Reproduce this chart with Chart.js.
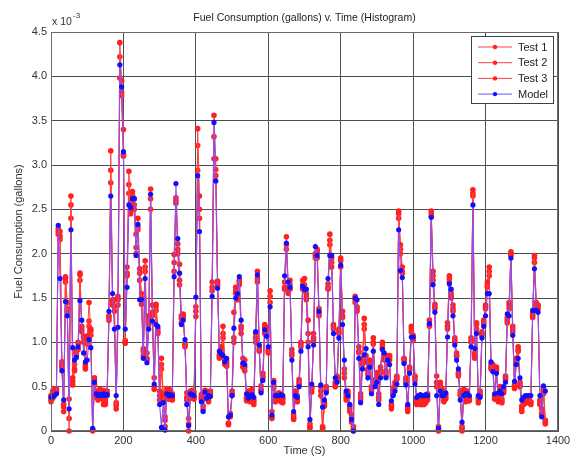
<!DOCTYPE html>
<html>
<head>
<meta charset="utf-8">
<title>Fuel Consumption v. Time</title>
<script src="https://cdn.jsdelivr.net/npm/chart.js@4.4.0/dist/chart.umd.min.js"></script>
<style>
  html, body { margin: 0; padding: 0; background: #ffffff; }
  #wrap { width: 584px; height: 458px; position: relative; }
</style>
</head>
<body>
<div id="wrap"><canvas id="chart" width="584" height="458"></canvas></div>
<script>
// Sample times in seconds
const timeS = [
  0, 5, 10, 15, 20, 25, 30, 35, 40, 45,
  50, 55, 60, 65, 70, 75, 80, 85, 90, 95,
  100, 105, 110, 115, 120, 125, 130, 135, 140, 145,
  150, 155, 160, 165, 170, 175, 180, 185, 190, 195,
  200, 205, 210, 215, 220, 225, 230, 235, 240, 245,
  250, 255, 260, 265, 270, 275, 280, 285, 290, 295,
  300, 305, 310, 315, 320, 325, 330, 335, 340, 345,
  350, 355, 360, 365, 370, 375, 380, 385, 390, 395,
  400, 405, 410, 415, 420, 425, 430, 435, 440, 445,
  450, 455, 460, 465, 470, 475, 480, 485, 490, 495,
  500, 505, 510, 515, 520, 525, 530, 535, 540, 545,
  550, 555, 560, 565, 570, 575, 580, 585, 590, 595,
  600, 605, 610, 615, 620, 625, 630, 635, 640, 645,
  650, 655, 660, 665, 670, 675, 680, 685, 690, 695,
  700, 705, 710, 715, 720, 725, 730, 735, 740, 745,
  750, 755, 760, 765, 770, 775, 780, 785, 790, 795,
  800, 805, 810, 815, 820, 825, 830, 835, 840, 845,
  850, 855, 860, 865, 870, 875, 880, 885, 890, 895,
  900, 905, 910, 915, 920, 925, 930, 935, 940, 945,
  950, 955, 960, 965, 970, 975, 980, 985, 990, 995,
  1000, 1005, 1010, 1015, 1020, 1025, 1030, 1035, 1040, 1045,
  1050, 1055, 1060, 1065, 1070, 1075, 1080, 1085, 1090, 1095,
  1100, 1105, 1110, 1115, 1120, 1125, 1130, 1135, 1140, 1145,
  1150, 1155, 1160, 1165, 1170, 1175, 1180, 1185, 1190, 1195,
  1200, 1205, 1210, 1215, 1220, 1225, 1230, 1235, 1240, 1245,
  1250, 1255, 1260, 1265, 1270, 1275, 1280, 1285, 1290, 1295,
  1300, 1305, 1310, 1315, 1320, 1325, 1330, 1335, 1340, 1345,
  1350, 1355, 1360, 1365
];

// Fuel consumption per interval, in units of 1e-3 gallons
const test1 = [
  0.33, 0.45, 0.47, 0.48, 2.28, 2.20, 0.78, 0.27, 1.74, 1.45,
  0.00, 2.65, 0.60, 0.70, 0.92, 1.00, 1.76, 1.15, 1.05, 0.72,
  1.07, 1.45, 1.15, 0.00, 0.60, 0.45, 0.38, 0.47, 0.42, 0.46,
  0.33, 0.45, 1.30, 3.16, 1.45, 1.48, 0.25, 1.52, 4.38, 3.95,
  3.40, 0.99, 1.85, 2.93, 2.48, 2.70, 2.62, 2.22, 2.40, 1.83,
  1.43, 0.90, 1.92, 0.82, 1.30, 2.73, 1.42, 0.47, 1.43, 1.15,
  0.45, 0.82, 0.42, 0.05, 0.48, 0.36, 0.42, 0.35, 1.99, 2.63,
  2.11, 1.88, 1.27, 1.32, 0.97, 0.43, 0.00, 0.37, 0.40, 0.44,
  1.29, 3.41, 2.65, 0.41, 0.36, 0.46, 0.40, 0.35, 0.45, 1.68,
  3.56, 3.07, 1.69, 0.86, 0.95, 1.18, 0.77, 0.76, 0.07, 0.16,
  0.45, 1.34, 1.62, 1.52, 1.70, 1.18, 0.82, 0.68, 0.38, 0.42,
  0.33, 0.47, 0.35, 1.05, 1.80, 0.90, 0.51, 0.65, 1.20, 1.17,
  0.90, 1.58, 0.14, 0.57, 0.35, 0.38, 0.43, 0.36, 0.35, 1.68,
  2.19, 1.58, 1.70, 0.92, 0.13, 0.45, 0.33, 0.58, 1.00, 1.70,
  1.72, 1.55, 1.25, 0.03, 0.44, 1.10, 2.00, 2.05, 1.38, 0.40,
  0.02, 0.30, 0.47, 1.66, 2.22, 1.95, 1.20, 0.55, 0.62, 1.15,
  1.92, 1.35, 0.60, 0.38, 0.45, 0.22, 0.18, 0.00, 1.52, 1.40,
  0.95, 0.42, 0.82, 1.27, 0.78, 0.68, 0.80, 0.48, 1.05, 0.58,
  0.62, 0.42, 0.72, 0.97, 0.85, 0.68, 0.82, 0.83, 0.25, 0.45,
  0.50, 0.60, 2.48, 2.10, 1.85, 0.82, 0.60, 0.25, 0.72, 1.18,
  1.02, 0.60, 0.35, 0.32, 0.36, 0.33, 0.30, 0.38, 0.42, 1.25,
  2.48, 1.80, 1.43, 0.62, 0.00, 0.55, 0.44, 0.35, 0.38, 1.22,
  1.72, 1.50, 1.42, 1.02, 0.88, 0.62, 0.40, 0.00, 0.47, 0.38,
  0.45, 0.36, 1.05, 2.72, 0.85, 1.20, 0.35, 0.42, 1.12, 1.25,
  1.42, 1.68, 1.85, 0.72, 0.75, 0.36, 0.72, 0.38, 0.50, 0.32,
  0.45, 0.60, 1.22, 1.42, 2.02, 1.15, 0.48, 0.82, 0.95, 0.52,
  0.25, 0.33, 0.35, 0.32, 0.38, 0.30, 1.32, 1.98, 1.45, 1.42,
  0.35, 0.25, 0.45, 0.08
];

const test2 = [
  0.36, 0.42, 0.45, 0.46, 2.22, 2.25, 0.75, 0.22, 1.72, 1.38,
  0.14, 2.55, 0.56, 0.68, 0.85, 0.98, 1.78, 1.12, 1.07, 0.70,
  1.05, 1.24, 1.13, 0.01, 0.58, 0.40, 0.42, 0.37, 0.45, 0.30,
  0.36, 0.40, 1.25, 2.94, 1.42, 1.40, 0.29, 1.48, 4.22, 3.82,
  3.10, 1.00, 1.75, 2.78, 2.58, 2.66, 2.55, 2.07, 2.27, 1.78,
  1.55, 0.93, 1.85, 0.80, 1.25, 2.50, 1.34, 0.60, 1.36, 1.10,
  0.40, 0.75, 0.37, 0.12, 0.45, 0.44, 0.46, 0.38, 1.80, 2.57,
  2.05, 1.70, 1.30, 1.28, 0.95, 0.35, 0.08, 0.45, 0.44, 0.36,
  1.40, 3.22, 2.50, 0.38, 0.28, 0.40, 0.43, 0.38, 0.42, 1.62,
  3.32, 2.88, 1.66, 0.82, 0.88, 1.05, 0.80, 0.73, 0.09, 0.18,
  0.40, 1.00, 1.58, 1.48, 1.65, 1.10, 0.72, 0.80, 0.34, 0.45,
  0.38, 0.42, 0.33, 1.10, 1.72, 0.92, 0.45, 0.62, 1.17, 1.10,
  0.88, 1.52, 0.22, 0.48, 0.38, 0.35, 0.40, 0.33, 0.37, 1.62,
  2.05, 1.62, 1.65, 0.85, 0.18, 0.42, 0.36, 0.52, 0.95, 1.65,
  1.58, 1.52, 1.00, 0.08, 0.48, 1.02, 1.95, 2.02, 1.30, 0.45,
  0.05, 0.32, 0.50, 1.60, 2.10, 1.85, 1.15, 0.50, 0.58, 1.10,
  1.85, 1.30, 0.65, 0.42, 0.38, 0.25, 0.10, 0.02, 1.45, 1.35,
  0.88, 0.38, 0.78, 1.20, 0.85, 0.64, 0.75, 0.45, 1.00, 0.55,
  0.66, 0.38, 0.68, 0.94, 0.80, 0.65, 0.85, 0.80, 0.30, 0.48,
  0.55, 0.58, 2.40, 2.00, 1.78, 0.78, 0.55, 0.28, 0.70, 1.12,
  1.08, 0.57, 0.32, 0.36, 0.30, 0.37, 0.33, 0.35, 0.38, 1.20,
  2.45, 1.75, 1.40, 0.55, 0.05, 0.50, 0.47, 0.38, 0.41, 1.15,
  1.68, 1.55, 1.38, 1.05, 0.84, 0.66, 0.45, 0.03, 0.43, 0.35,
  0.40, 0.38, 1.00, 2.68, 0.88, 1.15, 0.38, 0.45, 1.08, 1.22,
  1.38, 1.62, 1.75, 0.75, 0.72, 0.40, 0.68, 0.35, 0.48, 0.36,
  0.47, 0.58, 1.28, 1.38, 2.00, 1.12, 0.52, 0.78, 0.90, 0.55,
  0.28, 0.35, 0.32, 0.36, 0.35, 0.33, 1.30, 1.90, 1.40, 1.38,
  0.30, 0.20, 0.48, 0.12
];

const test3 = [
  0.40, 0.37, 0.43, 0.44, 2.25, 2.16, 0.72, 0.30, 1.68, 1.35,
  0.36, 2.40, 0.52, 0.75, 0.88, 0.92, 1.70, 1.18, 1.00, 0.75,
  0.98, 1.18, 1.08, 0.02, 0.52, 0.38, 0.35, 0.44, 0.38, 0.35,
  0.30, 0.43, 1.28, 2.80, 1.48, 1.35, 0.32, 1.42, 3.98, 3.78,
  3.12, 1.02, 1.78, 2.68, 2.45, 2.60, 2.50, 2.00, 2.30, 1.70,
  1.50, 0.85, 1.80, 0.88, 1.20, 2.62, 1.30, 0.50, 1.40, 1.12,
  0.35, 0.70, 0.35, 0.16, 0.40, 0.47, 0.38, 0.42, 1.90, 2.60,
  2.00, 1.65, 1.22, 1.30, 0.98, 0.38, 0.14, 0.40, 0.46, 0.38,
  1.35, 2.94, 2.40, 0.36, 0.24, 0.42, 0.45, 0.33, 0.40, 1.58,
  3.07, 2.95, 1.64, 0.84, 0.92, 1.10, 0.75, 0.79, 0.08, 0.20,
  0.42, 1.05, 1.55, 1.50, 1.68, 1.15, 0.75, 0.72, 0.36, 0.40,
  0.35, 0.44, 0.30, 1.00, 1.68, 0.95, 0.47, 0.60, 1.10, 1.12,
  0.92, 1.45, 0.16, 0.52, 0.33, 0.42, 0.36, 0.38, 0.32, 1.60,
  2.10, 1.55, 1.60, 0.88, 0.15, 0.38, 0.40, 0.55, 0.98, 1.60,
  1.65, 1.48, 1.10, 0.05, 0.50, 1.05, 1.98, 1.95, 1.33, 0.50,
  0.04, 0.28, 0.45, 1.62, 2.15, 1.90, 1.18, 0.52, 0.60, 1.12,
  1.95, 1.28, 0.70, 0.35, 0.42, 0.28, 0.15, 0.05, 1.48, 1.38,
  0.90, 0.35, 0.75, 1.15, 0.80, 0.70, 0.78, 0.50, 0.98, 0.52,
  0.60, 0.35, 0.65, 1.00, 0.82, 0.62, 0.78, 0.85, 0.28, 0.42,
  0.52, 0.62, 2.45, 2.05, 1.80, 0.80, 0.58, 0.22, 0.68, 1.15,
  1.05, 0.62, 0.30, 0.34, 0.33, 0.30, 0.36, 0.32, 0.35, 1.18,
  2.42, 1.70, 1.38, 0.50, 0.02, 0.52, 0.42, 0.33, 0.36, 1.18,
  1.75, 1.52, 1.35, 1.00, 0.85, 0.64, 0.42, 0.05, 0.45, 0.33,
  0.38, 0.34, 1.02, 2.65, 0.82, 1.22, 0.32, 0.40, 1.10, 1.20,
  1.40, 1.65, 1.80, 0.70, 0.70, 0.38, 0.70, 0.33, 0.46, 0.34,
  0.43, 0.62, 1.25, 1.45, 1.98, 1.18, 0.50, 0.80, 0.92, 0.50,
  0.22, 0.30, 0.34, 0.35, 0.33, 0.32, 1.28, 1.95, 1.42, 1.40,
  0.32, 0.18, 0.42, 0.10
];

const model = [
  0.38, 0.39, 0.40, 0.42, 2.32, 1.72, 0.68, 0.35, 1.46, 1.30,
  0.25, 2.27, 0.94, 0.80, 0.83, 0.95, 1.47, 1.25, 0.88, 0.78,
  0.80, 1.03, 0.94, 0.03, 0.55, 0.42, 0.40, 0.41, 0.40, 0.42,
  0.40, 0.41, 1.35, 2.65, 1.55, 1.15, 0.40, 1.17, 4.13, 3.88,
  3.15, 1.15, 1.62, 2.55, 2.52, 2.62, 2.62, 1.98, 2.33, 1.48,
  1.48, 0.82, 1.72, 0.77, 1.15, 2.67, 1.24, 0.53, 1.20, 1.18,
  0.30, 0.04, 0.32, 0.01, 0.42, 0.40, 0.41, 0.40, 1.74, 2.79,
  2.17, 1.78, 1.20, 1.25, 1.03, 0.30, 0.06, 0.42, 0.41, 0.40,
  1.51, 2.88, 2.25, 0.33, 0.22, 0.44, 0.37, 0.40, 0.39, 1.52,
  3.48, 2.82, 1.61, 0.90, 0.87, 0.85, 0.78, 0.82, 0.16, 0.18,
  0.40, 1.16, 1.50, 1.55, 1.74, 1.25, 0.77, 0.75, 0.42, 0.37,
  0.40, 0.41, 0.38, 1.12, 1.76, 0.97, 0.43, 0.57, 1.14, 1.07,
  0.95, 1.40, 0.18, 0.55, 0.40, 0.40, 0.40, 0.41, 0.40, 1.75,
  2.12, 1.68, 1.62, 0.80, 0.22, 0.40, 0.38, 0.50, 0.90, 1.63,
  1.60, 1.60, 0.95, 0.13, 0.53, 0.97, 2.08, 1.98, 1.35, 0.52,
  0.27, 0.35, 0.43, 1.72, 1.98, 1.98, 1.10, 0.60, 0.55, 1.05,
  1.87, 1.20, 0.80, 0.45, 0.40, 0.30, 0.13, 0.00, 1.50, 1.48,
  0.82, 0.32, 0.70, 0.86, 0.93, 0.60, 0.72, 0.42, 0.90, 0.50,
  0.55, 0.30, 0.60, 0.92, 0.88, 0.60, 0.80, 0.75, 0.34, 0.40,
  0.45, 0.53, 2.27, 1.81, 1.73, 0.76, 0.52, 0.30, 0.65, 1.06,
  1.06, 0.53, 0.38, 0.40, 0.41, 0.40, 0.40, 0.41, 0.40, 1.21,
  2.41, 1.65, 1.34, 0.40, 0.03, 0.45, 0.40, 0.40, 0.43, 1.06,
  1.66, 1.60, 1.30, 0.97, 0.80, 0.70, 0.35, 0.10, 0.40, 0.42,
  0.42, 0.40, 0.95, 2.55, 0.93, 1.10, 0.40, 0.38, 1.05, 1.18,
  1.30, 1.55, 1.55, 0.78, 0.67, 0.42, 0.65, 0.43, 0.45, 0.42,
  0.50, 0.55, 1.32, 1.30, 1.95, 1.08, 0.56, 0.75, 0.82, 0.60,
  0.35, 0.38, 0.40, 0.40, 0.40, 0.40, 1.36, 1.83, 1.36, 1.34,
  0.40, 0.16, 0.51, 0.45
];

// Axis range and tick spacing
const xTicks = { min: 0, max: 1400, step: 200 };
const yTicks = { min: 0, max: 4.5, step: 0.5 };

const seriesNames = ['Test 1', 'Test 2', 'Test 3', 'Model'];

const FONT = 'Liberation Sans, Arial, Helvetica, sans-serif';
const RED = '#ff2020';
const RED_LINE = '#ff4040';
const BLUE = '#1010ff';
const MODEL_LINE = '#8f4ef2';

function toPoints(values) {
  return values.map((v, i) => ({ x: timeS[i], y: v }));
}

// Title, exponent label, plot box and the boxed legend
const decorations = {
  id: 'decorations',
  afterDraw(chart) {
    const { ctx, chartArea: a } = chart;
    ctx.save();

    // plot box
    ctx.strokeStyle = '#6a6a6a';
    ctx.lineWidth = 1;
    ctx.strokeRect(a.left + 0.5, a.top + 0.5, a.right - a.left - 1, a.bottom - a.top - 1);

    // title
    ctx.fillStyle = '#222';
    ctx.font = '10.5px ' + FONT;
    ctx.textAlign = 'center';
    ctx.textBaseline = 'middle';
    ctx.fillText('Fuel Consumption (gallons) v. Time (Histogram)', (a.left + a.right) / 2, 18);

    // y-axis multiplier
    ctx.textAlign = 'left';
    ctx.fillStyle = '#333';
    ctx.font = '10.5px ' + FONT;
    ctx.fillText('x 10', a.left + 1, 22);
    ctx.font = '8px ' + FONT;
    ctx.fillText('-3', a.left + 22, 16);

    // legend
    const box = { x: 471, y: 36, w: 82, h: 67 };
    ctx.fillStyle = '#ffffff';
    ctx.fillRect(box.x, box.y, box.w, box.h);
    ctx.strokeStyle = '#404040';
    ctx.strokeRect(box.x + 0.5, box.y + 0.5, box.w, box.h);
    ctx.font = '11px ' + FONT;
    ctx.textBaseline = 'middle';
    chart.data.datasets.forEach((ds, i) => {
      const y = box.y + 11 + i * 15.7;
      ctx.strokeStyle = ds.legendLine;
      ctx.lineWidth = 1;
      ctx.beginPath();
      ctx.moveTo(box.x + 7, y);
      ctx.lineTo(box.x + 41, y);
      ctx.stroke();
      ctx.fillStyle = ds.pointBackgroundColor;
      ctx.beginPath();
      ctx.arc(box.x + 24, y, 2.2, 0, Math.PI * 2);
      ctx.fill();
      ctx.fillStyle = '#222';
      ctx.fillText(ds.label, box.x + 47, y + 0.5);
    });
    ctx.restore();
  }
};

function redSeries(label, values) {
  return {
    label,
    data: toPoints(values),
    borderColor: RED_LINE,
    legendLine: RED_LINE,
    borderWidth: 1,
    pointRadius: 2.8,
    pointBorderWidth: 0,
    pointBackgroundColor: RED,
    tension: 0,
    clip: false,
    order: 1
  };
}

new Chart(document.getElementById('chart'), {
  type: 'line',
  data: {
    datasets: [
      redSeries(seriesNames[0], test1),
      redSeries(seriesNames[1], test2),
      redSeries(seriesNames[2], test3),
      {
        label: seriesNames[3],
        data: toPoints(model),
        borderColor: MODEL_LINE,
        legendLine: '#5a5aff',
        borderWidth: 1.1,
        pointRadius: 2.6,
        pointBorderWidth: 0,
        pointBackgroundColor: BLUE,
        tension: 0,
        clip: false,
        order: 0
      }
    ]
  },
  options: {
    responsive: false,
    animation: false,
    devicePixelRatio: 1,
    layout: { padding: { top: 32, right: 26, left: 0, bottom: 0 } },
    plugins: {
      legend: { display: false },
      title: { display: false },
      tooltip: { enabled: false }
    },
    scales: {
      x: {
        type: 'linear',
        min: xTicks.min,
        max: xTicks.max,
        ticks: {
          stepSize: xTicks.step,
          color: '#333',
          font: { family: FONT, size: 11 },
          padding: 3,
          maxRotation: 0,
          callback: (v) => String(v)
        },
        grid: { color: '#4e4e4e', lineWidth: 1, drawTicks: false },
        border: { display: true, color: '#555' },
        title: {
          display: true,
          text: 'Time (S)',
          color: '#333',
          font: { family: FONT, size: 11 },
          padding: { top: 0, bottom: 0 }
        },
        afterFit(scale) { scale.height = 27; }
      },
      y: {
        min: yTicks.min,
        max: yTicks.max,
        ticks: {
          stepSize: yTicks.step,
          color: '#333',
          font: { family: FONT, size: 11 },
          padding: 4
        },
        grid: { color: '#4e4e4e', lineWidth: 1, drawTicks: false },
        border: { display: true, color: '#555' },
        title: {
          display: true,
          text: 'Fuel Consumption (gallons)',
          color: '#333',
          font: { family: FONT, size: 11 },
          padding: { top: 12, bottom: 0 }
        },
        afterFit(scale) { scale.width = 51; }
      }
    }
  },
  plugins: [decorations]
});
</script>
</body>
</html>
